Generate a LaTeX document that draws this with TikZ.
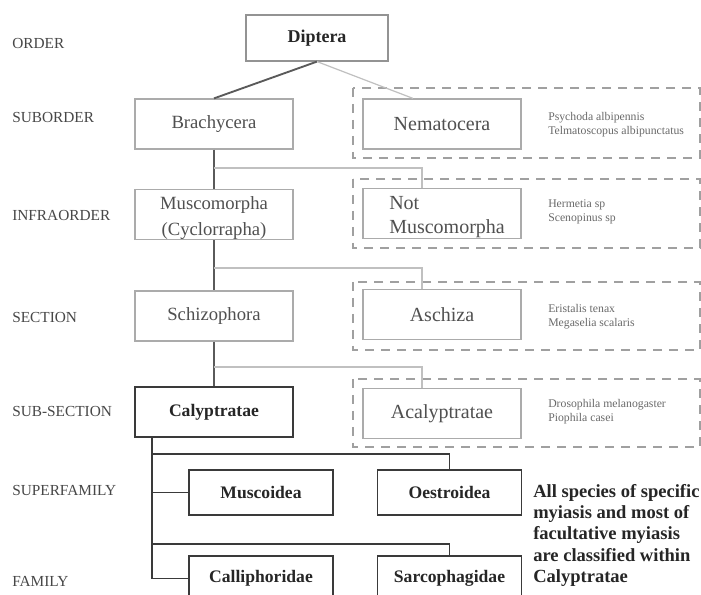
\documentclass[tikz,border=0pt]{standalone}
\usepackage{fontspec}
\setmainfont{Liberation Serif}
\usetikzlibrary{calc}
\definecolor{labelgray}{HTML}{474747}
\definecolor{boxgray}{HTML}{ABABAB}
\definecolor{dashgray}{HTML}{A0A0A0}
\definecolor{textgray}{HTML}{505050}
\definecolor{darkline}{HTML}{3A3A3A}
\definecolor{trunkgray}{HTML}{5A5A5A}
\definecolor{linegray}{HTML}{C0C0C0}
\definecolor{specgray}{HTML}{6A6A6A}
\begin{document}
\begin{tikzpicture}[x=0.75pt,y=-0.75pt,
  lvl/.style={anchor=west, inner sep=0, text=labelgray, font=\fontsize{11.5}{13}\selectfont},
  lightbox/.style={draw=boxgray, line width=0.9pt, text=textgray, align=center,
    minimum width=118.5pt, minimum height=37.5pt, inner sep=2pt,
    font=\fontsize{14}{19}\selectfont},
  sidebox/.style={lightbox, font=\fontsize{15}{17}\selectfont},
  boxtext/.style={inner sep=0, text=textgray},
  topbox/.style={draw=gray!85, line width=0.9pt, text=black!85,
    minimum width=106.5pt, minimum height=34.5pt, font=\fontsize{13.5}{16}\bfseries\selectfont},
  darkbox/.style={draw=darkline, line width=1.3pt, text=black!85,
    minimum width=118.5pt, minimum height=37.5pt, font=\fontsize{13.2}{16}\bfseries\selectfont},
  famibox/.style={darkbox, minimum width=108pt, minimum height=33.75pt},
  species/.style={anchor=west, align=left, inner sep=0, text=specgray,
    font=\fontsize{8.8}{10.7}\selectfont},
  group/.style={draw=dashgray, line width=0.9pt, dash pattern=on 7pt off 5pt},
  mainlink/.style={draw=trunkgray, line width=1.4pt},
  sidelink/.style={draw=linegray, line width=0.9pt},
  lowlink/.style={draw=darkline, line width=1.3pt}
]
\useasboundingbox (0,0) rectangle (701,595);
\clip (0,0) rectangle (701,595);
\fill[white] (0,0) rectangle (701,595);

% rank labels
\node[lvl] (lorder) at (12,44) {ORDER};
\node[lvl] (lsub) at (12,118) {SUBORDER};
\node[lvl] (linfra) at (12,216) {INFRAORDER};
\node[lvl] (lsec) at (12,318) {SECTION};
\node[lvl] (lsubsec) at (12,412) {SUB-SECTION};
\node[lvl] (lsuper) at (12,491) {SUPERFAMILY};
\node[lvl] (lfam) at (12,581) {FAMILY};

% dashed groups of excluded taxa
\draw[group] (353,88) rectangle (700,158);
\draw[group] (353,179) rectangle (700,248);
\draw[group] (353,282) rectangle (700,350);
\draw[group] (353,379) rectangle (700,447);

% main lineage
\node[topbox] (dip) at (317,38) {Diptera};
\node[lightbox] (bra) at (214,124) {Brachycera};
\node[lightbox] (mus) at (214,214.5) {};
\node[boxtext, align=center, font=\fontsize{14}{19}\selectfont] (mustxt) at (214,218) {Muscomorpha\\(Cyclorrapha)};
\node[lightbox] (sch) at (214,316) {Schizophora};
\node[darkbox] (cal) at (214,412) {Calyptratae};

% sister groups
\node[sidebox] (nem) at (442,124) {Nematocera};
\node[sidebox] (nmu) at (442,213.5) {};
\node[boxtext, anchor=west, align=left, font=\fontsize{15}{17.5}\selectfont] (nmutxt) at (389,217) {Not\\Muscomorpha};
\node[sidebox] (asc) at (442,314.5) {Aschiza};
\node[sidebox] (aca) at (442,413.5) {Acalyptratae};

% example species
\node[species] (sp1) at (548,124.5) {Psychoda albipennis\\Telmatoscopus albipunctatus};
\node[species] (sp2) at (548,212) {Hermetia sp\\Scenopinus sp};
\node[species] (sp3) at (548,316.5) {Eristalis tenax\\Megaselia scalaris};
\node[species] (sp4) at (548,412) {Drosophila melanogaster\\Piophila casei};

% superfamilies and families
\node[famibox] (msc) at (261,492.5) {Muscoidea};
\node[famibox] (oes) at (449.5,492.5) {Oestroidea};
\node[famibox] (cph) at (261,578.5) {Calliphoridae};
\node[famibox] (sar) at (449.5,578.5) {Sarcophagidae};

\node[anchor=north west, align=left, inner sep=0, text=black!85,
  font=\fontsize{13.9}{16}\bfseries\selectfont] (note) at (533,484)
  {All species of specific\\myiasis and most of\\facultative myiasis\\are classified within\\Calyptratae};

% connectors
\draw[mainlink] (dip.south) -- (bra.north);
\draw[sidelink] (dip.south) -- ([xshift=-21.75pt]nem.north);
\draw[mainlink] (bra.south) -- (mus.north);
\draw[mainlink] (mus.south) -- (sch.north);
\draw[mainlink] (sch.south) -- (cal.north);

\coordinate (b1) at (214,168);
\coordinate (b2) at (214,268);
\coordinate (b3) at (214,367);
\draw[sidelink] (b1) -| ([xshift=-15pt]nmu.north);
\draw[sidelink] (b2) -| ([xshift=-15pt]asc.north);
\draw[sidelink] (b3) -| ([xshift=-15pt]aca.north);

\coordinate (t0) at ([xshift=13.5pt]cal.south west);
\coordinate (h1) at (153,454);
\coordinate (h2) at (153,544);
\draw[lowlink] (t0) |- (cph.west);
\draw[lowlink] (t0 |- msc.west) -- (msc.west);
\draw[lowlink] (h1) -| (oes.north);
\draw[lowlink] (h2) -| (sar.north);
\end{tikzpicture}
\end{document}
